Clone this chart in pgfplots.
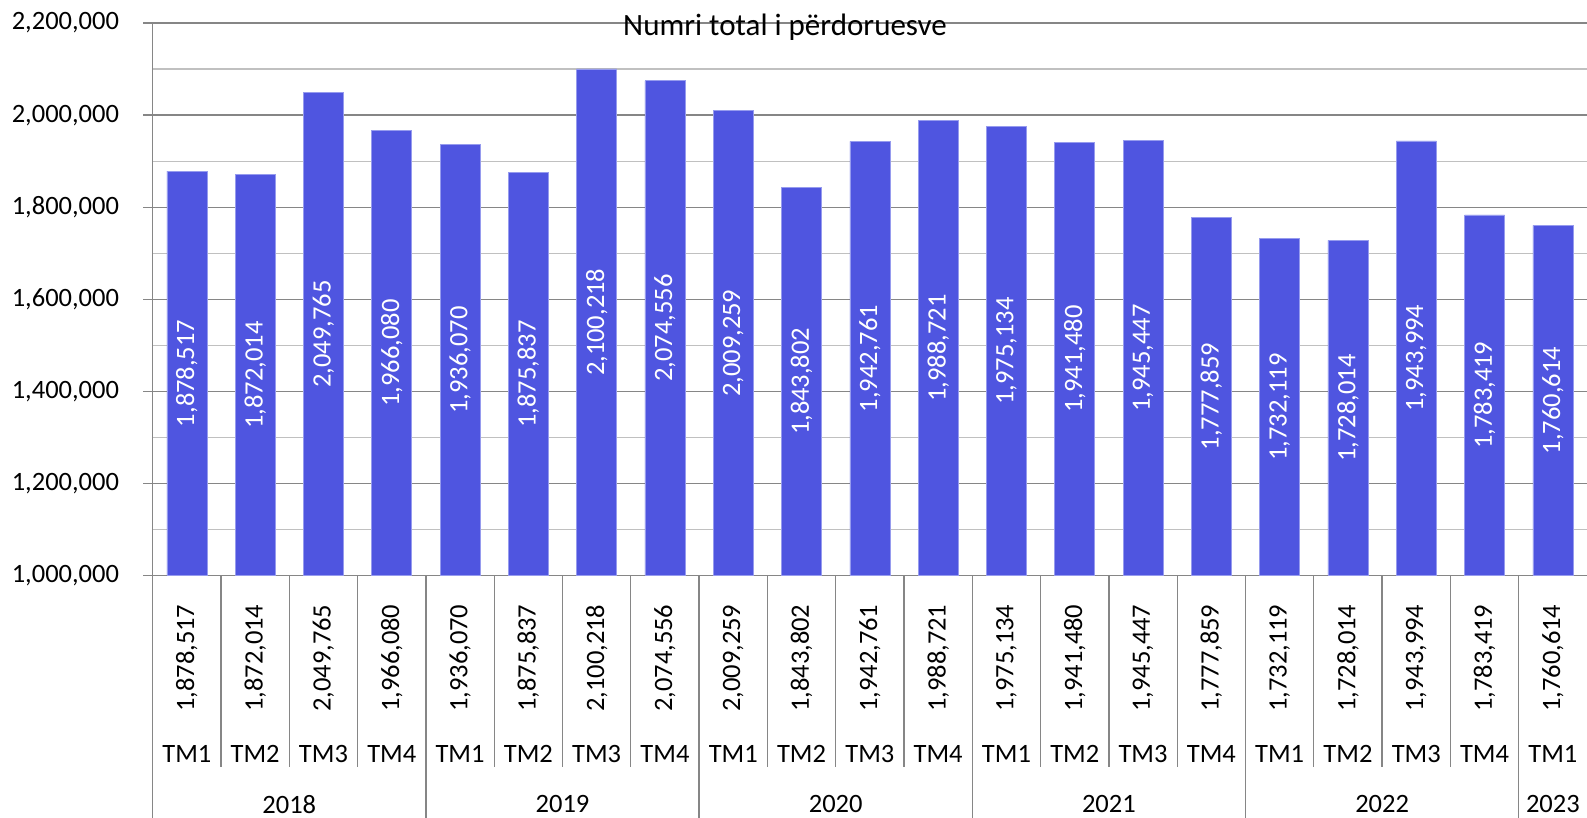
\documentclass[border=0pt]{standalone}
\usepackage{pgfplots}
\usepackage{pgfplotstable}
\pgfplotsset{compat=1.18}
\usepackage{fontspec}
\setmainfont{Carlito}
\definecolor{barblue}{RGB}{79,85,224}
\definecolor{baredge}{RGB}{150,155,238}
\definecolor{gridmaj}{RGB}{134,134,134}
\definecolor{gridmin}{RGB}{192,192,192}
\newcommand{\fs}{\fontsize{26.5}{31}\selectfont}

% quarterly users; x = category index
\pgfplotstableread{
x v lab tm
0 1878517 1,878,517 TM1
1 1872014 1,872,014 TM2
2 2049765 2,049,765 TM3
3 1966080 1,966,080 TM4
4 1936070 1,936,070 TM1
5 1875837 1,875,837 TM2
6 2100218 2,100,218 TM3
7 2074556 2,074,556 TM4
8 2009259 2,009,259 TM1
9 1843802 1,843,802 TM2
10 1942761 1,942,761 TM3
11 1988721 1,988,721 TM4
12 1975134 1,975,134 TM1
13 1941480 1,941,480 TM2
14 1945447 1,945,447 TM3
15 1777859 1,777,859 TM4
16 1732119 1,732,119 TM1
17 1728014 1,728,014 TM2
18 1943994 1,943,994 TM3
19 1783419 1,783,419 TM4
20 1760614 1,760,614 TM1
}\datatable

\pgfplotstableread{
x yr
1.5 2018
5.5 2019
9.5 2020
13.5 2021
17.5 2022
20 2023
}\yeartable

\begin{document}
\begin{tikzpicture}[x=1pt,y=1pt]
\useasboundingbox (0,0) rectangle (1587,817);
\begin{axis}[
  at={(152.7pt,241.3pt)}, anchor=south west,
  scale only axis, width=1434.3pt, height=552.7pt,
  xmin=-0.5, xmax=20.5, ymin=0, ymax=1200000,
  clip=false,
  axis lines=left,
  axis line style={-, draw=gridmaj, line width=1.3pt},
  xtick=\empty,
  ytick={0,200000,400000,600000,800000,1000000,1200000},
  yticklabels={{1,000,000},{1,200,000},{1,400,000},{1,600,000},{1,800,000},{2,000,000},{2,200,000}},
  minor ytick={100000,300000,500000,700000,900000,1100000},
  ymajorgrids, yminorgrids,
  major grid style={draw=gridmaj, line width=1.3pt},
  minor grid style={draw=gridmin, line width=1.3pt},
  tick align=outside, major tick length=9.5pt, minor tick length=0pt,
  ytick style={draw=gridmaj, line width=1.3pt},
  yticklabel style={font=\fs, anchor=east, inner sep=0pt, xshift=-24pt},
  scaled y ticks=false,
]
\addplot[ybar, bar width=40pt, bar shift=0pt, fill=barblue, draw=baredge, line width=0.7pt]
  table[x=x, y expr={\thisrow{v}-1000000}] {\datatable};
% labels inside the bars
\addplot[draw=none, mark=none, nodes near coords, point meta=explicit symbolic,
  every node near coord/.append style={rotate=90, anchor=center, text=white, font=\fs, inner sep=0pt}]
  table[x=x, y expr={(\thisrow{v}-1000000)/2}, meta=lab] {\datatable};
% data table row of values
\addplot[draw=none, mark=none, nodes near coords, point meta=explicit symbolic,
  every node near coord/.append style={rotate=90, anchor=center, text=black, font=\fs, inner sep=0pt}]
  table[x=x, y expr={-179300}, meta=lab] {\datatable};
% quarter labels
\addplot[draw=none, mark=none, nodes near coords, point meta=explicit symbolic,
  every node near coord/.append style={anchor=center, text=black, font=\fs, inner sep=0pt}]
  table[x=x, y expr={-387100}, meta=tm] {\datatable};
% year labels
\addplot[draw=none, mark=none, nodes near coords, point meta=explicit symbolic,
  every node near coord/.append style={anchor=center, text=black, font=\fs, inner sep=0pt}]
  table[x=x, y expr={-496700}, meta=yr] {\yeartable};
% separators
\pgfplotsinvokeforeach{0.5,1.5,2.5,4.5,5.5,6.5,8.5,9.5,10.5,12.5,13.5,14.5,16.5,17.5,18.5}{
  \draw[gridmaj, line width=1.3pt] (axis cs:#1,0) -- (axis cs:#1,-414700);
}
\pgfplotsinvokeforeach{-0.5,3.5,7.5,11.5,15.5,19.5}{
  \draw[gridmaj, line width=1.3pt] (axis cs:#1,0) -- (axis cs:#1,-620000);
}
\end{axis}
\node[font=\fontsize{31}{37}\selectfont, anchor=base, inner sep=0pt] at (785,781) {Numri total i përdoruesve};
\end{tikzpicture}
\end{document}
